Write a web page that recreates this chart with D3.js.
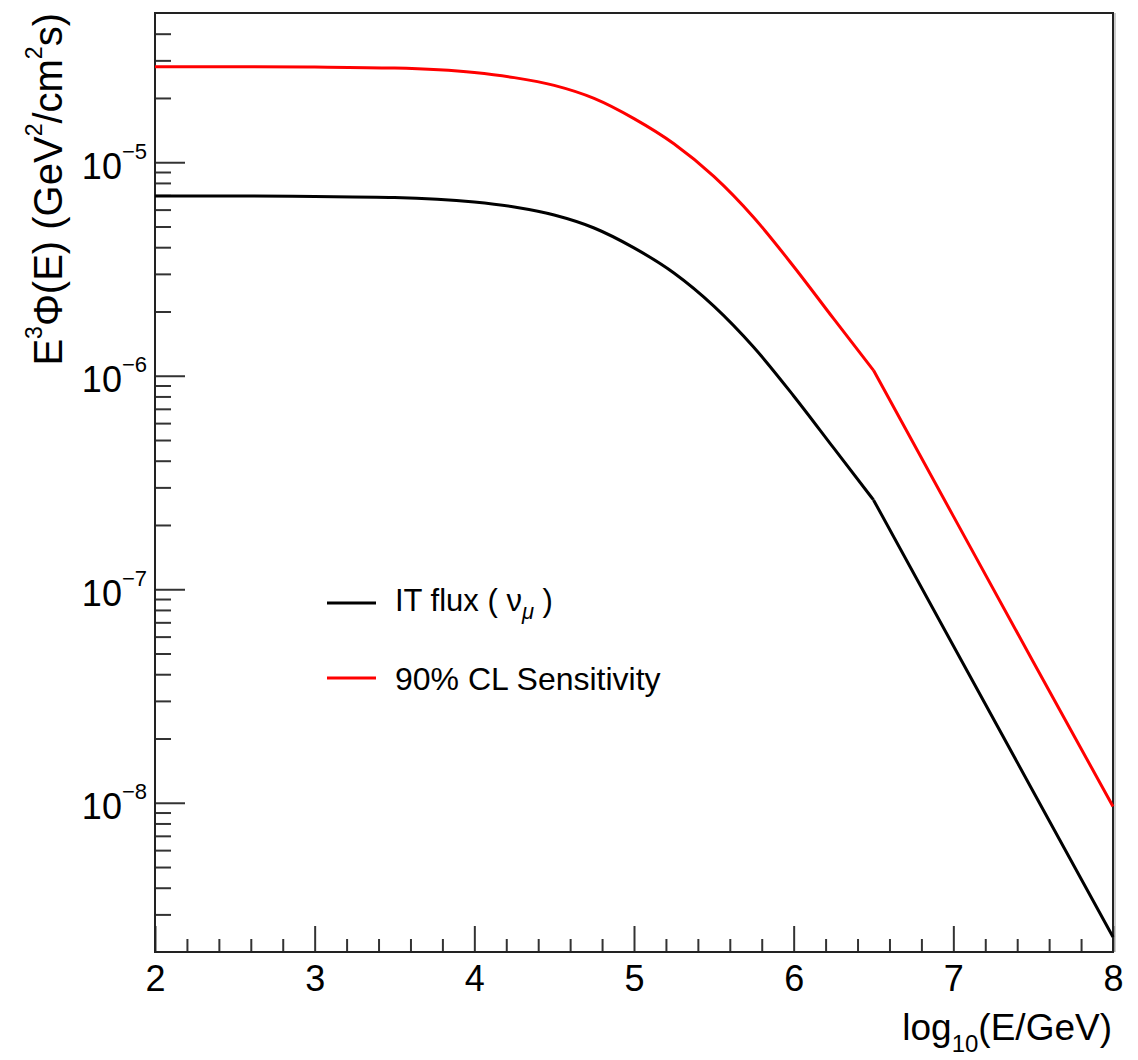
<!DOCTYPE html>
<html><head><meta charset="utf-8">
<script src="https://cdn.jsdelivr.net/npm/d3@7"></script>
<style>
body{margin:0;background:#fff}
svg{display:block}
text{font-family:"Liberation Sans",Arial,Helvetica,sans-serif;fill:#000}
</style>
</head><body><svg id="c" width="1138" height="1060"></svg>
<script>
// ---- data ----
const logE = [2, 2.5, 3, 3.5, 4, 4.25, 4.5, 4.75, 5, 5.25, 5.5, 5.75, 6, 6.25, 6.5, 7, 7.5, 8];
const itFlux = [6.95e-6, 6.95e-6, 6.91e-6, 6.84e-6, 6.51e-6, 6.17e-6, 5.66e-6, 4.92e-6, 3.97e-6, 3.03e-6, 2.12e-6, 1.36e-6, 8.04e-7, 4.59e-7, 2.62e-7, 5.44e-8, 1.13e-8, 2.35e-9];
const sensitivity = [2.80e-5, 2.80e-5, 2.79e-5, 2.76e-5, 2.63e-5, 2.49e-5, 2.29e-5, 1.99e-5, 1.60e-5, 1.22e-5, 8.58e-6, 5.51e-6, 3.25e-6, 1.85e-6, 1.06e-6, 2.20e-7, 4.58e-8, 9.6e-9];
const kinkE = 6.5;
const xTicks = [2, 3, 4, 5, 6, 7, 8];
const yExponents = [-5, -6, -7, -8];
const xDomain = [2, 8];
const yDomain = [2e-9, 5e-5];
const seriesNames = ["IT flux", "90% CL Sensitivity"];
const seriesColors = ["#000000", "#ff0000"];

// ---- layout ----
const L = 155, R = 1113, T = 13, B = 952;
const svg = d3.select("#c");
const x = d3.scaleLinear().domain(xDomain).range([L, R]);
const y = d3.scaleLog().domain(yDomain).range([B, T]);

const isMajor = v => Math.abs(Math.log10(v) - Math.round(Math.log10(v))) < 1e-6;

const styleAxis = g => {
  g.select(".domain").remove();
  g.selectAll(".tick line").attr("stroke", "#333").attr("stroke-width", 2);
};

// y ticks
const yMinor = y.ticks().filter(v => !isMajor(v) && v > yDomain[0] && v < yDomain[1]);
svg.append("g").attr("transform", `translate(${L},0)`)
  .call(d3.axisLeft(y).tickValues(yMinor).tickSize(-16).tickSizeOuter(0).tickFormat(""))
  .call(styleAxis);
svg.append("g").attr("transform", `translate(${L},0)`)
  .call(d3.axisLeft(y).tickValues(yExponents.map(e => Math.pow(10, e))).tickSize(-30).tickSizeOuter(0).tickFormat(""))
  .call(styleAxis);

// y tick labels (10^n)
const yl = svg.append("g");
yExponents.forEach(e => {
  const t = yl.append("text")
    .attr("x", L - 8).attr("y", y(Math.pow(10, e)) + 16.5)
    .attr("text-anchor", "end");
  t.append("tspan").attr("font-size", 36).text("10");
  t.append("tspan").attr("font-size", 22).attr("dy", -20).text("\u2212" + Math.abs(e));
});

// x ticks
const xMinor = d3.range(xDomain[0] * 5, xDomain[1] * 5 + 1).filter(i => i % 5 !== 0).map(i => i / 5);
svg.append("g").attr("transform", `translate(0,${B})`)
  .call(d3.axisBottom(x).tickValues(xMinor).tickSize(-13).tickSizeOuter(0).tickFormat(""))
  .call(styleAxis);
const xAx = svg.append("g").attr("transform", `translate(0,${B})`)
  .call(d3.axisBottom(x).tickValues(xTicks).tickSize(-26).tickSizeOuter(0).tickPadding(13).tickFormat(d3.format("d")))
  .call(styleAxis);
xAx.attr("font-family", null).attr("font-size", null);
xAx.selectAll(".tick text").attr("font-size", 36).attr("fill", "#000");

// frame
svg.append("rect").attr("x", L).attr("y", T).attr("width", R - L).attr("height", B - T)
  .attr("fill", "none").attr("stroke", "#222").attr("stroke-width", 2);
svg.append("line").attr("x1", R + 2).attr("x2", R + 2).attr("y1", T).attr("y2", B)
  .attr("stroke", "#999").attr("stroke-width", 1);

// curves: smooth part up to the kink, straight part after it
const pts = vals => logE.map((e, i) => ({e, v: vals[i]}));
const smooth = d3.line().x(d => x(d.e)).y(d => y(d.v)).curve(d3.curveMonotoneX);
const straight = d3.line().x(d => x(d.e)).y(d => y(d.v));
[itFlux, sensitivity].forEach((vals, k) => {
  const p = pts(vals);
  svg.append("path").attr("d", smooth(p.filter(d => d.e <= kinkE)))
    .attr("fill", "none").attr("stroke", seriesColors[k]).attr("stroke-width", 3).attr("stroke-linejoin", "round");
  svg.append("path").attr("d", straight(p.filter(d => d.e >= kinkE)))
    .attr("fill", "none").attr("stroke", seriesColors[k]).attr("stroke-width", 3).attr("stroke-linejoin", "round");
});

// legend
const lg = svg.append("g");
lg.append("line").attr("x1", 327).attr("x2", 376).attr("y1", 603).attr("y2", 603).attr("stroke", seriesColors[0]).attr("stroke-width", 3);
const t1 = lg.append("text").attr("x", 395).attr("y", 611).attr("font-size", 31);
t1.append("tspan").text(seriesNames[0] + " ( \u03bd");
t1.append("tspan").attr("font-size", 22).attr("font-style", "italic").attr("dy", 8).text("\u03bc");
t1.append("tspan").attr("dy", -8).text(" )");
lg.append("line").attr("x1", 327).attr("x2", 376).attr("y1", 678).attr("y2", 678).attr("stroke", seriesColors[1]).attr("stroke-width", 3);
lg.append("text").attr("x", 395).attr("y", 690).attr("font-size", 32).text(seriesNames[1]);

// x title
const xt = svg.append("text").attr("x", R - 1).attr("y", 1040).attr("text-anchor", "end").attr("font-size", 37);
xt.append("tspan").text("log");
xt.append("tspan").attr("font-size", 24).attr("dy", 12).text("10");
xt.append("tspan").attr("dy", -12).text("(E/GeV)");

// y title
const yt = svg.append("text").attr("transform", `translate(62,${T}) rotate(-90)`).attr("text-anchor", "end").attr("font-size", 40);
yt.append("tspan").text("E");
yt.append("tspan").attr("font-size", 23).attr("dy", -20).text("3");
yt.append("tspan").attr("dy", 20).text("\u03a6(E) (GeV");
yt.append("tspan").attr("font-size", 23).attr("dy", -20).text("2");
yt.append("tspan").attr("dy", 20).text("/cm");
yt.append("tspan").attr("font-size", 23).attr("dy", -20).text("2");
yt.append("tspan").attr("dy", 20).text("s)");
</script>
</body></html>
